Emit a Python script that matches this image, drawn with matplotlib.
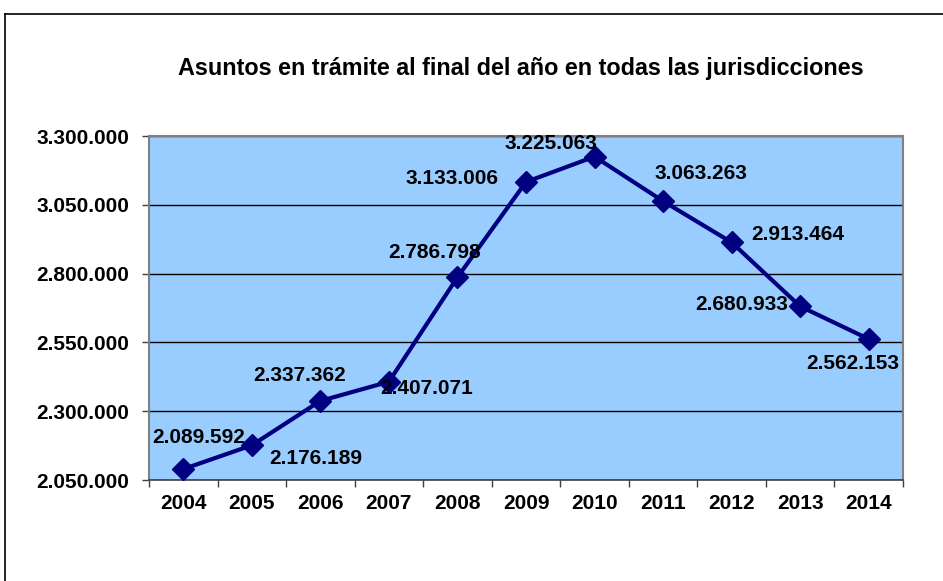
import matplotlib
matplotlib.use("Agg")
import matplotlib.pyplot as plt
from matplotlib.lines import Line2D
from matplotlib.ticker import FuncFormatter, FixedLocator
import numpy as np

plt.rcParams['font.family'] = ['Liberation Sans', 'DejaVu Sans']

# ---- data ----
years = ["2004", "2005", "2006", "2007", "2008", "2009", "2010", "2011", "2012", "2013", "2014"]
asuntos = [2089592, 2176189, 2337362, 2407071, 2786798, 3133006, 3225063, 3063263, 2913464, 2680933, 2562153]
y_ticks = [2050000, 2300000, 2550000, 2800000, 3050000, 3300000]
title = "Asuntos en trámite al final del año en todas las jurisdicciones"

# label offsets in pixels (style only)
label_offsets = [(15, 32), (64, -13), (-21, 25), (38, -7), (-23, 25), (-74, 3),
                 (-44, 13), (38, 28), (66, 8), (-58, 2), (-16, -24)]

def fmt_es(v):
    return f"{int(round(v)):,}".replace(",", ".")

W, H = 943, 581
fig = plt.figure(figsize=(W / 100, H / 100), dpi=100)
fig.patch.set_facecolor("white")

# outer border (left and top)
fig.add_artist(Line2D([5 / W, 5 / W], [0, 1 - 14 / H], transform=fig.transFigure, color="black", lw=1.2))
fig.add_artist(Line2D([5 / W, 1], [1 - 14 / H, 1 - 14 / H], transform=fig.transFigure, color="black", lw=1.2))

ax = fig.add_axes([149 / W, 1 - 480 / H, (903 - 149) / W, (480 - 136) / H])
ax.set_facecolor("#99CCFF")

x = np.arange(len(years))
ax.plot(x, asuntos, color="#000080", lw=3.0, marker="D", markersize=11, zorder=3)

for xi, v, (dx, dy) in zip(x, asuntos, label_offsets):
    ax.annotate(fmt_es(v), (xi, v), xytext=(dx, dy), textcoords="offset pixels",
                ha="center", va="center", fontsize=15, fontweight="bold", color="black", zorder=4)

ax.set_xlim(-0.5, len(years) - 0.5)
ax.set_ylim(y_ticks[0], y_ticks[-1])

# y axis
ax.set_yticks(y_ticks)
ax.yaxis.set_major_formatter(FuncFormatter(lambda v, p: fmt_es(v)))
ax.tick_params(axis="y", direction="out", length=5, width=1, color="#404040", pad=9,
               labelsize=15)
for lab in ax.get_yticklabels():
    lab.set_fontweight("bold")
ax.grid(axis="y", color="black", lw=1, zorder=1)
ax.set_axisbelow(True)

# x axis: ticks at boundaries, labels at centers
ax.xaxis.set_major_locator(FixedLocator(np.arange(len(years) + 1) - 0.5))
ax.xaxis.set_major_formatter(FuncFormatter(lambda v, p: ""))
ax.xaxis.set_minor_locator(FixedLocator(x))
ax.set_xticklabels(years, minor=True, fontsize=15, fontweight="bold")
ax.tick_params(axis="x", which="major", direction="out", length=5, width=1, color="#404040")
ax.tick_params(axis="x", which="minor", length=0, pad=10)

for side in ["left", "right", "top"]:
    ax.spines[side].set_color("#808080")
    ax.spines[side].set_linewidth(1.5)
ax.spines["bottom"].set_color("#404040")
ax.spines["bottom"].set_linewidth(1.2)

fig.text(521 / W, 1 - 68 / H, title, ha="center", va="center", fontsize=16.8, fontweight="bold")

fig.savefig("out.png", dpi=100)
